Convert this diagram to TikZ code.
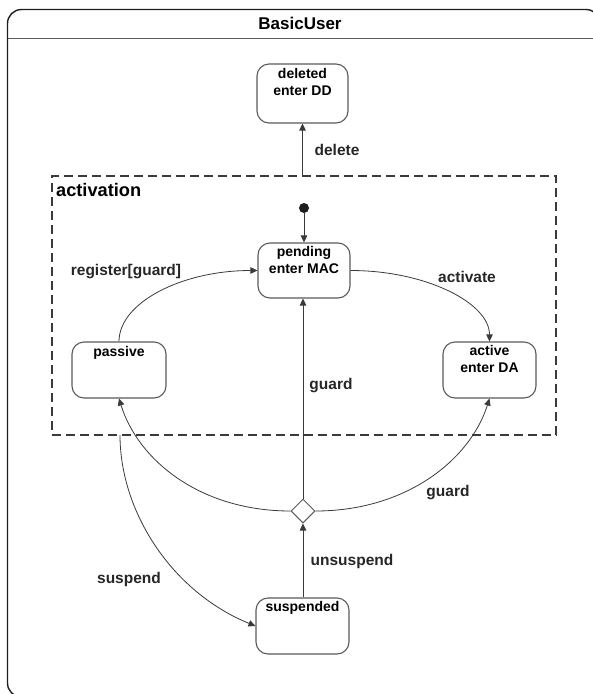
\documentclass[tikz,border=0pt]{standalone}
\usepackage{fontspec}
\setmainfont{Liberation Sans}
\usetikzlibrary{shapes.geometric,arrows.meta}
\definecolor{boxgray}{HTML}{5A5A5A}
\definecolor{linegray}{HTML}{3A3A3A}
\definecolor{frameblack}{HTML}{1E1E1E}
\tikzset{
  stbox/.style={draw=boxgray, line width=1.1pt, rounded corners=12pt, fill=white, inner sep=0pt},
  sttext/.style={anchor=north, align=center, inner sep=0pt, font=\fontsize{14}{17}\selectfont\bfseries, text=black},
  lbl/.style={inner sep=0pt, font=\fontsize{15.5}{18}\selectfont\bfseries, text=black!85},
  arr/.style={draw=linegray, line width=0.8pt, -{Triangle[length=7pt,width=6.5pt]}},
}
\begin{document}
\begin{tikzpicture}[x=1pt,y=-1pt]
\useasboundingbox (0,0) rectangle (593,694);
\begin{scope}
\clip (0,0) rectangle (593,694);
% outer frame
\draw[frameblack, line width=1.4pt, rounded corners=14pt] (7.5,9.5) rectangle (600,697);
\draw[boxgray, line width=1.6pt] (7.5,38.5) -- (593,38.5);
\end{scope}
\node[inner sep=0pt, font=\fontsize{17}{20}\selectfont\bfseries] (title) at (300,23) {BasicUser};

% activation composite
\node[draw=linegray, line width=1.6pt, dash pattern=on 9pt off 5pt, minimum width=504pt, minimum height=259pt, inner sep=0pt] (act) at (304,305.5) {};
\node[inner sep=0pt, anchor=west, font=\fontsize{18.2}{21}\selectfont\bfseries] (actlbl) at (56,190) {activation};

% states
\node[stbox, minimum width=91pt, minimum height=59pt] (deleted) at (302.5,93.5) {};
\node[sttext] (deletedt) at ([yshift=-4.5pt]deleted.north) {deleted\\enter DD};

\node[stbox, minimum width=92pt, minimum height=55pt] (pending) at (304,270.5) {};
\node[sttext] (pendingt) at ([yshift=-3.5pt]pending.north) {pending\\enter MAC};

\node[stbox, minimum width=94pt, minimum height=56pt] (passive) at (119,370) {};
\node[sttext] (passivet) at ([yshift=-5pt]passive.north) {passive};

\node[stbox, minimum width=93pt, minimum height=56pt] (active) at (489.5,370) {};
\node[sttext] (activet) at ([yshift=-3.5pt]active.north) {active\\enter DA};

\node[stbox, minimum width=93pt, minimum height=56pt] (suspended) at (302.5,626) {};
\node[sttext] (suspendedt) at ([yshift=-3.5pt]suspended.north) {suspended};

% initial and choice
\node[circle, fill=frameblack, minimum size=10pt, inner sep=0pt] (init) at (304,208) {};
\node[diamond, draw=boxgray, line width=1pt, fill=white, minimum width=24pt, minimum height=24pt, inner sep=0pt] (dia) at (303,511) {};

\coordinate (delstart) at (302.5,176);
\coordinate (susstart) at (120,435);

% transitions
\draw[arr] (delstart) -- (deleted.south);
\draw[arr] (init) -- (pending.north);
\draw[arr] (passive.north) .. controls (119,303) and (181,270.5) .. (pending.west);
\draw[arr] (pending.east) .. controls (426,270.5) and (489.5,303) .. (active.north);
\draw[arr] (dia.north) -- (dia.north |- pending.south);
\draw[arr] (dia.west) .. controls (200,511) and (138,460) .. (passive.south);
\draw[arr] (dia.east) .. controls (406,511) and (470,460) .. (active.south);
\draw[arr] (suspended.north -| dia.south) -- (dia.south);
\draw[arr] (susstart) .. controls (120,512) and (172,592) .. (suspended.west);

% labels
\node[lbl] (ldelete) at (337,150) {delete};
\node[lbl] (lregister) at (126,272) {register[guard]};
\node[lbl] (lactivate) at (467,277) {activate};
\node[lbl] (lguard1) at (331,386) {guard};
\node[lbl] (lguard2) at (448,493) {guard};
\node[lbl] (lunsuspend) at (352,561) {unsuspend};
\node[lbl] (lsuspend) at (129,579) {suspend};
\end{tikzpicture}
\end{document}
